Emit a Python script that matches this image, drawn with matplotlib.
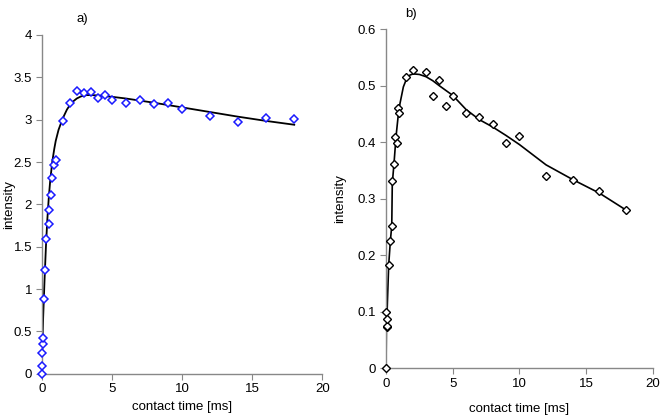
import matplotlib
matplotlib.use("Agg")
import matplotlib.pyplot as plt

plt.rcParams['font.family'] = ['Liberation Sans', 'DejaVu Sans']

# panel a) measured points
a_time = [0, 0.02, 0.05, 0.08, 0.1, 0.15, 0.25, 0.33, 0.5, 0.55, 0.65, 0.75, 0.85, 1.0,
          1.5, 2.0, 2.5, 3.0, 3.5, 4.0, 4.5, 5.0, 6, 7, 8, 9, 10, 12, 14, 16, 18]
a_int = [0, 0.09, 0.25, 0.35, 0.42, 0.88, 1.22, 1.59, 1.77, 1.93, 2.11, 2.31, 2.46, 2.52,
         2.98, 3.20, 3.34, 3.31, 3.33, 3.25, 3.29, 3.23, 3.20, 3.23, 3.18, 3.20, 3.13,
         3.04, 2.97, 3.02, 3.01]

# panel a) fitted curve (read off the figure)
a_fit_time = [0, 0.05, 0.1, 0.2, 0.3, 0.4, 0.5, 0.6, 0.75, 0.9, 1.0, 1.2, 1.4, 1.6, 1.8,
              2.0, 2.2, 2.5, 2.8, 3.2, 3.6, 4.0, 5, 6, 8, 10, 12, 14, 16, 18]
a_fit_int = [0, 0.35, 0.65, 1.10, 1.50, 1.82, 2.07, 2.27, 2.50, 2.66, 2.75, 2.88, 2.97,
             3.05, 3.12, 3.17, 3.21, 3.25, 3.275, 3.29, 3.29, 3.285, 3.27, 3.25, 3.20,
             3.145, 3.09, 3.035, 2.985, 2.94]

# panel b) measured points
b_time = [0, 0.01, 0.05, 0.06, 0.1, 0.2, 0.33, 0.43, 0.45, 0.58, 0.65, 0.8, 0.9, 1.0,
          1.5, 2.0, 3.0, 3.5, 4.0, 4.5, 5.0, 6, 7, 8, 9, 10, 12, 14, 16, 18]
b_int = [0, 0.100, 0.073, 0.075, 0.088, 0.183, 0.226, 0.252, 0.332, 0.362, 0.409, 0.398,
         0.461, 0.452, 0.516, 0.528, 0.525, 0.482, 0.511, 0.464, 0.481, 0.451, 0.444,
         0.433, 0.398, 0.411, 0.340, 0.334, 0.313, 0.280]

# panel b) fitted curve (read off the figure)
b_fit_time = [0, 0.03, 0.08, 0.2, 0.33, 0.43, 0.47, 0.6, 0.75, 0.93, 1.05, 1.3, 1.55,
              1.8, 2.05, 2.5, 3.0, 3.5, 4.0, 5, 6, 7, 8, 9, 10, 12, 14, 16, 18]
b_fit_int = [0, 0.074, 0.100, 0.183, 0.227, 0.252, 0.327, 0.363, 0.410, 0.451, 0.469,
             0.498, 0.513, 0.519, 0.521, 0.520, 0.516, 0.509, 0.500, 0.483, 0.458, 0.440,
             0.427, 0.412, 0.396, 0.360, 0.334, 0.310, 0.280]


def style_axes(ax, ylim, yticks, ylabels, panel, title_x, xpad, ylab_x):
    ax.set_xlim(0, 20)
    ax.set_ylim(*ylim)
    ax.set_xticks([0, 5, 10, 15, 20])
    ax.set_yticks(yticks)
    ax.set_yticklabels(ylabels)
    for side in ('top', 'right'):
        ax.spines[side].set_visible(False)
    for side in ('left', 'bottom'):
        ax.spines[side].set_color('#888888')
        ax.spines[side].set_linewidth(1.0)
    ax.tick_params(direction='out', length=4, width=0.8, color='#888888',
                   labelsize=9.5, pad=3)
    ax.set_xlabel('contact time [ms]', fontsize=9.5, labelpad=xpad)
    ax.set_ylabel('intensity', fontsize=9.5)
    ax.yaxis.set_label_coords(ylab_x, 0.5)
    ax.set_title(panel, fontsize=9.5, loc='left', x=title_x, y=1.0, pad=9)


fig = plt.figure(figsize=(6.61, 4.16), dpi=100)

ax1 = fig.add_axes([0.0631, 0.1017, 0.4245, 0.8142])
ax1.plot(a_fit_time, a_fit_int, color='black', lw=1.3, zorder=2)
ax1.plot(a_time, a_int, linestyle='none', marker='D', markersize=4.2,
         markerfacecolor='white', markeredgecolor='#1a1aff', markeredgewidth=1.1,
         zorder=3, clip_on=False)
style_axes(ax1, (0, 4), [0, 0.5, 1, 1.5, 2, 2.5, 3, 3.5, 4],
           ['0', '0.5', '1', '1.5', '2', '2.5', '3', '3.5', '4'], 'a)',
           0.125, 4, -0.093)

ax2 = fig.add_axes([0.584, 0.1147, 0.4035, 0.815])
ax2.plot(b_fit_time, b_fit_int, color='black', lw=1.2, zorder=2)
ax2.plot(b_time, b_int, linestyle='none', marker='D', markersize=3.8,
         markerfacecolor='white', markeredgecolor='black', markeredgewidth=1.0,
         zorder=3, clip_on=False)
style_axes(ax2, (0, 0.6), [0, 0.1, 0.2, 0.3, 0.4, 0.5, 0.6],
           ['0', '0.1', '0.2', '0.3', '0.4', '0.5', '0.6'], 'b)',
           0.07, 9, -0.15)

fig.savefig('out.png', dpi=100)
